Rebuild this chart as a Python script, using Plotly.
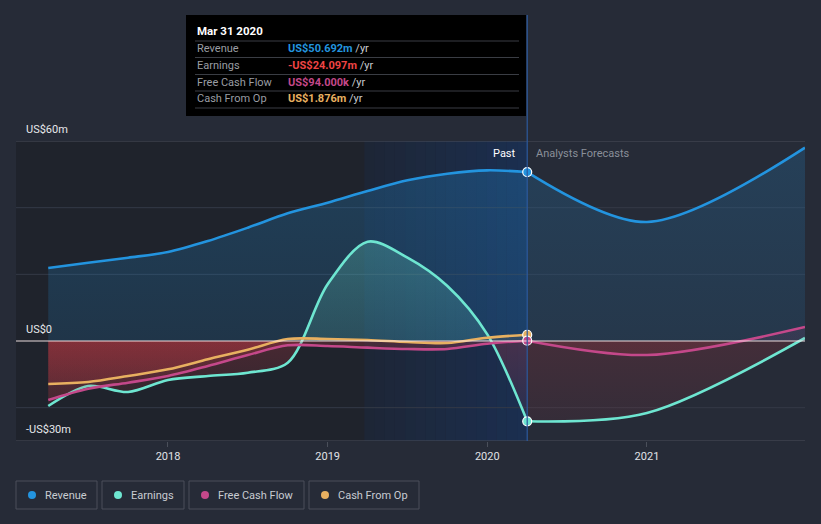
import plotly.graph_objects as go

# ---------------- data ----------------
past_x = [2017.25, 2017.5, 2017.75, 2018.0, 2018.25, 2018.5, 2018.75,
          2019.0, 2019.25, 2019.5, 2019.75, 2020.0, 2020.25]
fc_x = [2020.25, 2021.0, 2021.99]

revenue_past = [21.9, 23.5, 25.0, 26.7, 30.0, 34.0, 38.3, 41.5, 45.0, 48.2, 50.2, 51.2, 50.692]
revenue_fc = [50.692, 35.7, 58.0]

earnings_past = [-19.5, -13.5, -15.3, -11.7, -10.5, -9.5, -6.5, 17.0, 29.8, 25.0, 16.5, 2.0, -24.097]
earnings_fc = [-24.097, -21.6, 0.9]

fcf_past = [-17.7, -14.3, -12.5, -10.5, -7.5, -4.2, -1.3, -1.5, -2.0, -2.4, -2.4, -0.8, 0.094]
fcf_fc = [0.094, -4.2, 4.2]

cfo_past = [-12.9, -12.3, -10.5, -8.5, -5.5, -2.6, 0.6, 0.6, 0.3, -0.3, -0.6, 1.0, 1.876]

x_ticks = [2018, 2019, 2020, 2021]
x_tick_labels = ["2018", "2019", "2020", "2021"]
y_grid = [60, 40, 20, 0, -20]
y_labels = [(60, "US$60m"), (0, "US$0"), (-30, "-US$30m")]

names = ["Revenue", "Earnings", "Free Cash Flow", "Cash From Op"]
colors = ["#2394df", "#6ee6d1", "#c4488a", "#e8b060"]
tooltip_vals = ["US$50.692m", "-US$24.097m", "US$94.000k", "US$1.876m"]
tooltip_cols = ["#2394df", "#ef4444", "#c4488a", "#e8b060"]

X0, X1 = 2017.048, 2021.99
Y0, Y1 = -30, 60
NOW = 2020.25
HL0 = 2019.23

BG = "#262b37"
FONT = "Roboto, 'Open Sans', Arial, sans-serif"

# pixel helpers (plot area: x 16..805, y 141..441)
def fx(px):
    return (px - 16) / 789.0

def fy(py):
    return (441 - py) / 300.0


def grad(rgb, top_a, bot_a, neg=(220, 60, 70), neg_top=0.22, neg_bot=0.03):
    r, g, b = rgb
    nr, ng, nb = neg
    z = (0 - Y0) / (Y1 - Y0)
    return dict(
        type="vertical", start=Y0, stop=Y1,
        colorscale=[
            [0.0, f"rgba({nr},{ng},{nb},{neg_bot})"],
            [z - 0.001, f"rgba({nr},{ng},{nb},{neg_top})"],
            [z + 0.001, f"rgba({r},{g},{b},{bot_a})"],
            [1.0, f"rgba({r},{g},{b},{top_a})"],
        ],
    )


fig = go.Figure()

LW = 2.6
SM = 0.9

# revenue
fig.add_trace(go.Scatter(x=past_x, y=revenue_past, mode="lines", fill="tozeroy",
                         fillgradient=grad((35, 148, 223), 0.26, 0.16),
                         line=dict(color=colors[0], width=LW, shape="spline", smoothing=SM),
                         hoverinfo="skip", showlegend=False))
fig.add_trace(go.Scatter(x=fc_x, y=revenue_fc, mode="lines", fill="tozeroy",
                         fillgradient=grad((35, 148, 223), 0.2, 0.12),
                         line=dict(color=colors[0], width=LW, shape="spline", smoothing=SM),
                         hoverinfo="skip", showlegend=False))
# earnings
fig.add_trace(go.Scatter(x=past_x, y=earnings_past, mode="lines", fill="tozeroy",
                         fillgradient=grad((110, 230, 209), 0.36, 0.14),
                         line=dict(color=colors[1], width=LW, shape="spline", smoothing=SM),
                         hoverinfo="skip", showlegend=False))
fig.add_trace(go.Scatter(x=fc_x, y=earnings_fc, mode="lines", fill="tozeroy",
                         fillgradient=grad((110, 230, 209), 0.3, 0.1, neg_top=0.16, neg_bot=0.06),
                         line=dict(color=colors[1], width=LW, shape="spline", smoothing=SM),
                         hoverinfo="skip", showlegend=False))
# free cash flow
fig.add_trace(go.Scatter(x=past_x, y=fcf_past, mode="lines", fill="tozeroy",
                         fillgradient=grad((196, 72, 138), 0.2, 0.1),
                         line=dict(color=colors[2], width=LW, shape="spline", smoothing=SM),
                         hoverinfo="skip", showlegend=False))
fig.add_trace(go.Scatter(x=fc_x, y=fcf_fc, mode="lines", fill="tozeroy",
                         fillgradient=grad((196, 72, 138), 0.2, 0.1, neg_top=0.14, neg_bot=0.05),
                         line=dict(color=colors[2], width=LW, shape="spline", smoothing=SM),
                         hoverinfo="skip", showlegend=False))
# cash from op
fig.add_trace(go.Scatter(x=past_x, y=cfo_past, mode="lines", fill="tozeroy",
                         fillgradient=grad((232, 176, 96), 0.2, 0.1),
                         line=dict(color=colors[3], width=LW, shape="spline", smoothing=SM),
                         hoverinfo="skip", showlegend=False))

# current markers
now_vals = [revenue_past[-1], earnings_past[-1], fcf_past[-1], cfo_past[-1]]
for v, c in zip([now_vals[3], now_vals[2], now_vals[0], now_vals[1]],
                [colors[3], colors[2], colors[0], colors[1]]):
    fig.add_trace(go.Scatter(x=[NOW], y=[v], mode="markers",
                             marker=dict(size=9, color=c, line=dict(color="white", width=1.2)),
                             hoverinfo="skip", showlegend=False))

shapes = []
# past dark region
shapes.append(dict(type="rect", xref="x", yref="y", x0=X0, x1=NOW, y0=Y0, y1=Y1,
                   fillcolor="#1f232c", line=dict(width=0), layer="below"))
# highlight gradient
n = 16
for i in range(n):
    a = 0.10 + 0.24 * (i / (n - 1))
    shapes.append(dict(type="rect", xref="x", yref="y",
                       x0=HL0 + (NOW - HL0) * i / n, x1=HL0 + (NOW - HL0) * (i + 1) / n,
                       y0=Y0, y1=Y1, fillcolor=f"rgba(20,70,150,{a:.3f})",
                       line=dict(width=0), layer="below"))
# gridlines
for g in y_grid:
    col = "#4a4f5a" if g == 60 else "#343946"
    if g == 0:
        continue
    shapes.append(dict(type="line", xref="x", yref="y", x0=X0, x1=X1, y0=g, y1=g,
                       line=dict(color=col, width=1), layer="below"))
# axis line
shapes.append(dict(type="line", xref="x", yref="y", x0=X0, x1=X1, y0=Y0, y1=Y0,
                   line=dict(color="#4a4f5a", width=1.2), layer="above"))
# zero line
shapes.append(dict(type="line", xref="x", yref="y", x0=X0, x1=X1, y0=0, y1=0,
                   line=dict(color="rgba(255,240,240,0.9)", width=1.2), layer="above"))
# tooltip box
shapes.append(dict(type="rect", xref="paper", yref="paper",
                   x0=fx(186), x1=fx(526), y0=fy(116), y1=fy(15),
                   fillcolor="#000000", line=dict(width=0), layer="above"))
for py in [41, 57.5, 74.5, 91, 108]:
    shapes.append(dict(type="line", xref="paper", yref="paper",
                       x0=fx(195), x1=fx(519), y0=fy(py), y1=fy(py),
                       line=dict(color="#3a3d44", width=1), layer="above"))
# vertical now line
shapes.append(dict(type="line", xref="x", yref="paper", x0=NOW, x1=NOW,
                   y0=0, y1=fy(15), line=dict(color="#2c5a9e", width=1.2), layer="above"))

# legend boxes
legend_boxes = [(16, 97), (102, 184), (189, 304), (309, 419)]
for (bx0, bx1), c in zip(legend_boxes, colors):
    shapes.append(dict(type="rect", xref="paper", yref="paper",
                       x0=fx(bx0), x1=fx(bx1), y0=fy(509), y1=fy(481),
                       line=dict(color="#4a4f5a", width=1), fillcolor="rgba(0,0,0,0)"))
    shapes.append(dict(type="circle", xref="paper", yref="paper",
                       x0=fx(bx0 + 12), x1=fx(bx0 + 20), y0=fy(499), y1=fy(491),
                       line=dict(width=0), fillcolor=c))

annotations = []
for v, t in y_labels:
    py = 441 - (v - Y0) / (Y1 - Y0) * 300 - 12
    annotations.append(dict(xref="paper", yref="paper", x=fx(24), y=fy(py), text=t,
                            showarrow=False, xanchor="left", yanchor="middle",
                            font=dict(family=FONT, size=11, color="#e6e8eb")))
annotations.append(dict(xref="paper", yref="paper", x=fx(518), y=fy(153), text="Past",
                        showarrow=False, xanchor="right", yanchor="middle",
                        font=dict(family=FONT, size=11, color="#ffffff")))
annotations.append(dict(xref="paper", yref="paper", x=fx(534), y=fy(153), text="Analysts Forecasts",
                        showarrow=False, xanchor="left", yanchor="middle",
                        font=dict(family=FONT, size=11, color="#8a8f99")))
# tooltip text
annotations.append(dict(xref="paper", yref="paper", x=fx(195), y=fy(31), text="<b>Mar 31 2020</b>",
                        showarrow=False, xanchor="left", yanchor="middle",
                        font=dict(family=FONT, size=11.5, color="#ffffff")))
for i, (nm, val, vc) in enumerate(zip(names, tooltip_vals, tooltip_cols)):
    py = 48.5 + i * 16.8
    annotations.append(dict(xref="paper", yref="paper", x=fx(195), y=fy(py), text=nm,
                            showarrow=False, xanchor="left", yanchor="middle",
                            font=dict(family=FONT, size=11, color="#9a9da3")))
    annotations.append(dict(xref="paper", yref="paper", x=fx(286), y=fy(py),
                            text=f"<b><span style='color:{vc}'>{val}</span></b> <span style='color:#c8cbd0'>/yr</span>",
                            showarrow=False, xanchor="left", yanchor="middle",
                            font=dict(family=FONT, size=11, color="#c8cbd0")))
# legend text
for (bx0, bx1), nm in zip(legend_boxes, names):
    annotations.append(dict(xref="paper", yref="paper", x=fx(bx0 + 27), y=fy(495), text=nm,
                            showarrow=False, xanchor="left", yanchor="middle",
                            font=dict(family=FONT, size=11, color="#c8ccd2")))

fig.update_layout(
    width=821, height=524,
    margin=dict(l=16, r=16, t=141, b=83),
    paper_bgcolor=BG, plot_bgcolor=BG,
    shapes=shapes, annotations=annotations,
    showlegend=False,
    xaxis=dict(range=[X0, X1], tickvals=x_ticks, ticktext=x_tick_labels,
               showgrid=False, zeroline=False, showline=False,
               ticks="outside", ticklen=5, tickcolor="#4a4f5a", tickwidth=1,
               tickfont=dict(family=FONT, size=11, color="#e0e2e6"),
               fixedrange=True),
    yaxis=dict(range=[Y0, Y1], showgrid=False, zeroline=False, showline=False,
               showticklabels=False, fixedrange=True),
)

fig.write_html("out.html")
